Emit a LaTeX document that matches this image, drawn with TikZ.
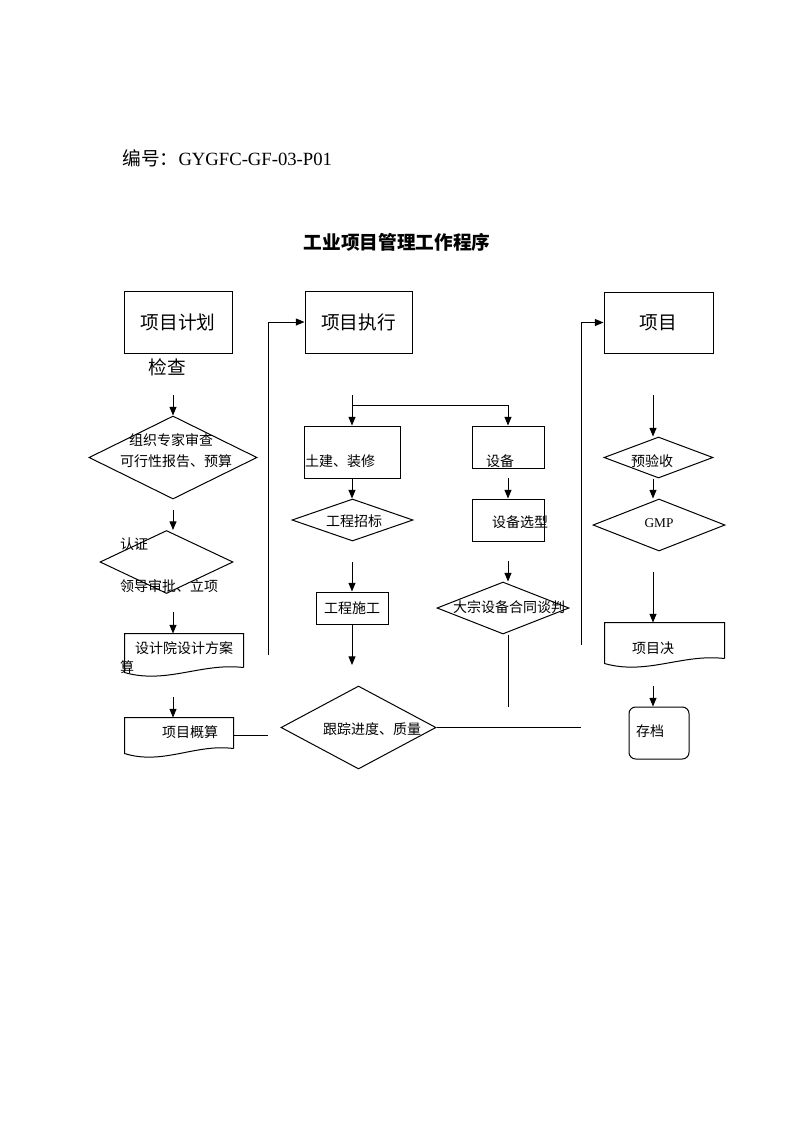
\documentclass[tikz,border=0pt]{standalone}
\usepackage{fontspec}
\setmainfont{Liberation Serif}
\newfontfamily\cjk{Noto Sans CJK SC}
\usetikzlibrary{shapes.geometric,arrows.meta,calc}

\tikzset{every picture/.style={line width=0.75pt}}
\tikzset{
  box/.style={draw, rectangle, inner sep=0pt},
  dia/.style={draw, diamond, inner sep=0pt},
  docu/.style={rectangle, inner sep=0pt},
  rbox/.style={draw, rectangle, rounded corners=5pt, inner sep=0pt},
  bigtxt/.style={inner sep=0.75pt, font=\cjk\fontsize{14}{16}\selectfont},
  smalltxt/.style={inner sep=0.75pt, font=\cjk\fontsize{10.5}{12}\selectfont},
  arr/.style={-{Triangle[length=6.5pt,width=5.25pt]}},
}
% outline of a document shape with wavy bottom
\newcommand{\docwave}[1]{%
  \draw ($(#1.south east)+(0,-5)$) -- (#1.north east) -- (#1.north west) -- (#1.south west)
    .. controls ($(#1.south west)!0.35!(#1.south east)+(0,12)$) and ($(#1.south west)!0.65!(#1.south east)+(0,-10)$) .. ($(#1.south east)+(0,-5)$);}

\begin{document}
\begin{tikzpicture}[x=0.75pt,y=0.75pt,yscale=-1,xscale=1]
\useasboundingbox (0,0) rectangle (793,1122);

% Header and title
\node[anchor=west, inner sep=0pt, font=\fontsize{14}{16}\selectfont] (bh) at (122,158) {{\cjk 编号：}GYGFC-GF-03-P01};
\node[bigtxt, font=\cjk\bfseries\fontsize{14}{16}\selectfont] (bt) at (397,242) {工业项目管理工作程序};

% Top boxes
\node[box, minimum width=81pt, minimum height=46.5pt, bigtxt] (jh) at (178,322) {项目计划};
\node[box, minimum width=80.25pt, minimum height=46.5pt, bigtxt] (zx) at (358.5,322) {项目执行};
\node[box, minimum width=81.75pt, minimum height=45.75pt, bigtxt] (xm) at (658.5,322.5) {项目};
\node[bigtxt] (jc) at (167,367) {检查};

% Left column
\node[dia, minimum width=126pt, minimum height=62.25pt] (zj) at (173,457.5) {};
\node[smalltxt] (zja) at (171,440) {组织专家审查};
\node[smalltxt] (zjb) at (176,461) {可行性报告、预算};

\node[dia, minimum width=99.75pt, minimum height=47.25pt] (ld) at (166.5,562) {};
\node[smalltxt] (rz) at (134,544) {认证};
\node[smalltxt] (lds) at (169,586) {领导审批、立项};

\node[docu, minimum width=88.5pt, minimum height=28.5pt] (sj) at (184,653) {};
\docwave{sj}
\node[smalltxt] (sjt) at (184,648) {设计院设计方案};
\node[smalltxt] (sjs) at (127,667) {算};

\node[docu, minimum width=81pt, minimum height=26.25pt] (gs) at (179,735.5) {};
\docwave{gs}
\node[smalltxt] (gst) at (190,732) {项目概算};

% Middle column
\node[box, minimum width=72pt, minimum height=39pt] (tj) at (352,452) {};
\node[smalltxt] (tjt) at (340,461) {土建、装修};
\node[box, minimum width=54pt, minimum height=31.5pt] (sb) at (508,447) {};
\node[smalltxt] (sbt) at (500,461) {设备};

\node[dia, minimum width=90.75pt, minimum height=31.5pt] (zb) at (352.5,520) {};
\node[smalltxt] (zbt) at (354,521) {工程招标};
\node[box, minimum width=54pt, minimum height=24pt, smalltxt] (sg) at (352,608) {工程施工};

\node[dia, minimum width=116.25pt, minimum height=62.25pt] (gz) at (358.5,727.5) {};
\node[smalltxt] (gzt) at (372,729) {跟踪进度、质量};

\node[box, minimum width=54pt, minimum height=31.5pt] (xx) at (508,520) {};
\node[smalltxt] (xxt) at (520,522) {设备选型};
\node[dia, minimum width=99pt, minimum height=39pt] (ht) at (503,608) {};
\node[smalltxt] (htt) at (509,607) {大宗设备合同谈判};

% Right column
\node[dia, minimum width=81.75pt, minimum height=30.75pt] (ys) at (658.5,457.5) {};
\node[smalltxt] (yst) at (652,461) {预验收};
\node[dia, minimum width=99pt, minimum height=39pt] (gmp) at (659,525) {};
\node[inner sep=0.75pt, font=\fontsize{10}{12}\selectfont] (gmpt) at (659,523) {GMP};

\node[docu, minimum width=89.25pt, minimum height=30pt] (jj) at (664.5,643) {};
\docwave{jj}
\node[smalltxt] (jjt) at (653,648) {项目决};
\node[rbox, minimum width=45pt, minimum height=39pt] (cd) at (659,733) {};
\node[smalltxt] (cdt) at (650,731) {存档};

% Connectors, left
\coordinate (a1) at (173,395);
\coordinate (a2) at (173,510);
\coordinate (a3) at (173,612);
\coordinate (a4) at (173,697);
\coordinate (e1) at (268,738);
\coordinate (v1) at (268,655);
\draw[arr] (a1) -- (a1 |- zj.north);
\draw[arr] (a2) -- (a2 |- ld.north);
\draw[arr] (a3) -- (a3 |- sj.north);
\draw[arr] (a4) -- (a4 |- gs.north);
\draw (gs.east) -- (gs.east -| e1);
\draw[arr] (v1) |- (zx.west);

% Connectors, middle
\coordinate (b1) at (352,395);
\coordinate (b2) at (352,405);
\coordinate (b3) at (352,562);
\coordinate (b4) at (352,665);
\coordinate (b5) at (581,728);
\draw[arr] (b1) -- (b1 |- tj.north);
\draw[arr] (b2) -| (sb.north);
\draw[arr] (tj.south) -- (tj.south |- zb.north);
\draw[arr] (b3) -- (b3 |- sg.north);
\draw[arr] (sg.south) -- (b4);
\draw (gz.east) -- (gz.east -| b5);

\coordinate (c1) at (508,478);
\coordinate (c2) at (508,561);
\coordinate (c3) at (508,707);
\coordinate (v2) at (581,645);
\draw[arr] (c1) -- (c1 |- xx.north);
\draw[arr] (c2) -- (c2 |- ht.north);
\draw (c3 |- ht.south) -- (c3);
\draw[arr] (v2) |- (xm.west);

% Connectors, right
\coordinate (d1) at (653,395);
\coordinate (d2) at (653,572);
\coordinate (d3) at (653,686);
\draw[arr] (d1) -- (d1 |- ys.north);
\draw[arr] (d1 |- ys.south) -- (d1 |- gmp.north);
\draw[arr] (d2) -- (d2 |- jj.north);
\draw[arr] (d3) -- (d3 |- cd.north);

\end{tikzpicture}
\end{document}
